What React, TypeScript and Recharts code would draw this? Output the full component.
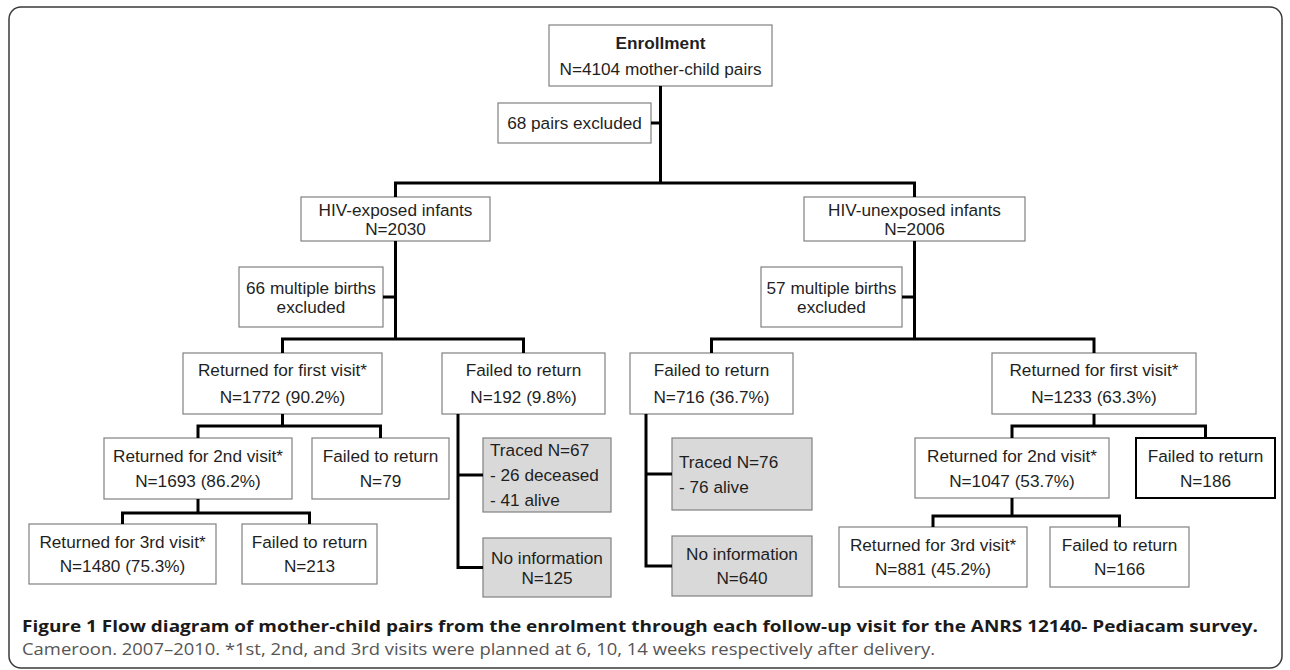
import { ScatterChart, Scatter, XAxis, YAxis, ReferenceArea } from 'recharts';

const WIDTH = 1290;
const HEIGHT = 670;

// text of every step of the flow
const stepLines: Record<string, string[]> = {
  enroll: ['Enrollment', 'N=4104 mother-child pairs'],
  excl68: ['68 pairs excluded'],
  hivExp: ['HIV-exposed infants', 'N=2030'],
  hivUnexp: ['HIV-unexposed infants', 'N=2006'],
  mult66: ['66 multiple births', 'excluded'],
  mult57: ['57 multiple births', 'excluded'],
  e1ret: ['Returned for first visit*', 'N=1772 (90.2%)'],
  e1fail: ['Failed to return', 'N=192 (9.8%)'],
  u1fail: ['Failed to return', 'N=716 (36.7%)'],
  u1ret: ['Returned for first visit*', 'N=1233 (63.3%)'],
  e2ret: ['Returned for 2nd  visit*', 'N=1693 (86.2%)'],
  e2fail: ['Failed to return', 'N=79'],
  eTraced: ['Traced N=67', '- 26 deceased', '- 41 alive'],
  eNoInfo: ['No information', 'N=125'],
  uTraced: ['Traced N=76', '- 76 alive'],
  uNoInfo: ['No information', 'N=640'],
  u2ret: ['Returned for 2nd visit*', 'N=1047 (53.7%)'],
  u2fail: ['Failed to return', 'N=186'],
  e3ret: ['Returned for 3rd visit*', 'N=1480 (75.3%)'],
  e3fail: ['Failed to return', 'N=213'],
  u3ret: ['Returned for 3rd visit*', 'N=881 (45.2%)'],
  u3fail: ['Failed to return', 'N=166'],
};

// tree: parent -> children joined by a bar at barY
const tees: [string, string[], number][] = [
  ['enroll', ['hivExp', 'hivUnexp'], 183],
  ['hivExp', ['e1ret', 'e1fail'], 339],
  ['hivUnexp', ['u1fail', 'u1ret'], 339],
  ['e1ret', ['e2ret', 'e2fail'], 426],
  ['u1ret', ['u2ret', 'u2fail'], 426],
  ['e2ret', ['e3ret', 'e3fail'], 513],
  ['u2ret', ['u3ret', 'u3fail'], 516],
];
// exclusion boxes hanging off a trunk
const sides: [string, string][] = [
  ['excl68', 'enroll'],
  ['mult66', 'hivExp'],
  ['mult57', 'hivUnexp'],
];
// failed-to-return boxes split into traced / no information
const rakes: [string, string[]][] = [
  ['e1fail', ['eTraced', 'eNoInfo']],
  ['u1fail', ['uTraced', 'uNoInfo']],
];

const greyBoxes = ['eTraced', 'eNoInfo', 'uTraced', 'uNoInfo'];
const leftBoxes = ['eTraced', 'uTraced'];

// layout: x1, x2, y1, y2, line gap (figure units, y down)
const layout: Record<string, number[]> = {
  enroll: [549, 772, 25, 86, 26],
  excl68: [498, 651, 103, 143, 0],
  hivExp: [301, 490, 197, 241, 19],
  hivUnexp: [804, 1025, 197, 241, 19],
  mult66: [239, 383, 267, 327, 19],
  mult57: [761, 902, 267, 327, 19],
  e1ret: [183, 382, 353, 414, 27],
  e1fail: [442, 605, 353, 414, 27],
  u1fail: [630, 793, 353, 414, 27],
  u1ret: [992, 1196, 353, 414, 27],
  e2ret: [104, 292, 438, 499, 25],
  e2fail: [312, 449, 438, 499, 25],
  eTraced: [483, 611, 438, 512, 25],
  eNoInfo: [483, 611, 538, 597, 20],
  uTraced: [672, 812, 438, 510, 25],
  uNoInfo: [672, 812, 536, 596, 24],
  u2ret: [915, 1109, 438, 498, 25],
  u2fail: [1136, 1275, 438, 498, 25],
  e3ret: [29, 216, 524, 584, 24],
  e3fail: [242, 377, 524, 584, 24],
  u3ret: [839, 1027, 527, 587, 24],
  u3fail: [1050, 1189, 527, 587, 24],
};

const captionTitle =
  'Figure 1 Flow diagram of mother-child pairs from the enrolment through each follow-up visit for the ANRS 12140- Pediacam survey.';
const captionNote =
  'Cameroon. 2007\u20132010. *1st, 2nd, and 3rd visits were planned at 6, 10, 14 weeks respectively after delivery.';

const FONT = '"Liberation Sans", Arial, sans-serif';

const cx = (id: string) => (layout[id][0] + layout[id][1]) / 2;
const cy = (id: string) => (layout[id][2] + layout[id][3]) / 2;

function buildLinks() {
  const out: { x: number; y: number }[][] = [];
  const pt = (x: number, y: number) => ({ x, y });
  tees.forEach(([parent, kids, barY]) => {
    const px = cx(parent);
    out.push([pt(px, layout[parent][3]), pt(px, barY)]);
    const a = kids[0];
    const b = kids[kids.length - 1];
    out.push([
      pt(cx(a), layout[a][2]),
      pt(cx(a), barY),
      pt(cx(b), barY),
      pt(cx(b), layout[b][2]),
    ]);
  });
  sides.forEach(([box, parent]) => {
    out.push([pt(layout[box][1], cy(box)), pt(cx(parent), cy(box))]);
  });
  rakes.forEach(([parent, kids]) => {
    const x = layout[parent][0] + 16;
    const last = kids[kids.length - 1];
    out.push([
      pt(x, layout[parent][3]),
      pt(x, cy(last)),
      pt(layout[last][0], cy(last)),
    ]);
    kids.slice(0, -1).forEach((k) => {
      out.push([pt(x, cy(k)), pt(layout[k][0], cy(k))]);
    });
  });
  return out;
}

const renderBox = (id: string) => (p: any) => {
  const lines = stepLines[id];
  const gap = layout[id][4];
  const grey = greyBoxes.includes(id);
  const left = leftBoxes.includes(id);
  const thick = id === 'u2fail';
  const midY = p.y + p.height / 2;
  const tx = left ? p.x + 7 : p.x + p.width / 2;
  return (
    <g>
      <rect
        x={p.x}
        y={p.y}
        width={p.width}
        height={p.height}
        fill={grey ? '#d9d9d9' : '#ffffff'}
        stroke={thick ? '#000000' : '#808080'}
        strokeWidth={thick ? 2 : 1.2}
      />
      {lines.map((t, i) => (
        <text
          key={i}
          x={tx}
          y={midY + (i - (lines.length - 1) / 2) * gap}
          textAnchor={left ? 'start' : 'middle'}
          dominantBaseline="central"
          fontFamily={FONT}
          fontSize={17.2}
          fontWeight={id === 'enroll' && i === 0 ? 700 : 400}
          fill="#1f1f1f"
        >
          {t}
        </text>
      ))}
    </g>
  );
};

const renderFrame = (p: any) => (
  <rect
    x={p.x}
    y={p.y}
    width={p.width}
    height={p.height}
    rx={12}
    ry={12}
    fill="none"
    stroke="#3a3a3a"
    strokeWidth={1.5}
  />
);

const renderCaption = (p: any) => (
  <g>
    <text
      x={p.x}
      y={p.y + 10}
      dominantBaseline="central"
      fontFamily='"Open Sans", sans-serif'
      fontWeight={700}
      fontSize={16.5}
      fill="#1a1a1a"
      textLength={1236}
      lengthAdjust="spacingAndGlyphs"
    >
      {captionTitle}
    </text>
    <text
      x={p.x}
      y={p.y + 33}
      dominantBaseline="central"
      fontFamily='"Open Sans", sans-serif'
      fontSize={16.5}
      fill="#555555"
      textLength={913}
      lengthAdjust="spacingAndGlyphs"
    >
      {captionNote}
    </text>
  </g>
);

export default function App() {
  const links = buildLinks();
  return (
    <div style={{ position: 'absolute', left: 0, top: 0, background: '#fff' }}>
      <ScatterChart
        width={WIDTH}
        height={HEIGHT}
        margin={{ top: 0, right: 0, bottom: 0, left: 0 }}
      >
        <XAxis type="number" dataKey="x" domain={[0, WIDTH]} allowDataOverflow hide />
        <YAxis type="number" dataKey="y" domain={[0, HEIGHT]} allowDataOverflow reversed hide />
        <ReferenceArea x1={9} x2={1282} y1={7} y2={668} shape={renderFrame} />
        {links.map((pts, i) => (
          <Scatter
            key={i}
            data={pts}
            line={{ stroke: '#000000', strokeWidth: 3 }}
            shape={() => <g />}
            isAnimationActive={false}
          />
        ))}
        {Object.keys(layout).map((id) => (
          <ReferenceArea
            key={id}
            x1={layout[id][0]}
            x2={layout[id][1]}
            y1={layout[id][2]}
            y2={layout[id][3]}
            shape={renderBox(id)}
          />
        ))}
        <ReferenceArea x1={22} x2={1258} y1={615} y2={660} shape={renderCaption} />
      </ScatterChart>
    </div>
  );
}
